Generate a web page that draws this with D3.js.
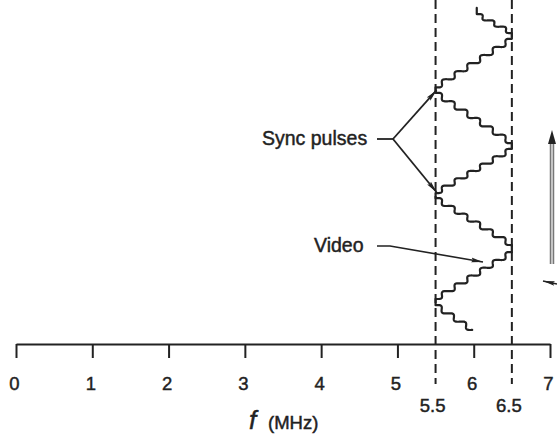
<!DOCTYPE html>
<html>
<head>
<meta charset="utf-8">
<script src="https://cdn.jsdelivr.net/npm/d3@7/dist/d3.min.js"></script>
<style>
  html, body { margin: 0; padding: 0; background: #fff; }
  svg { display: block; }
  text { font-family: "Liberation Sans", Arial, Helvetica, sans-serif; fill: #222; stroke: #222; stroke-width: 0.45px; }
</style>
</head>
<body>
<script>
// ---- data ----
const xTicks = [0, 1, 2, 3, 4, 5, 6, 7];
const bandEdges = [5.5, 6.5];
const bandLabels = ["5.5", "6.5"];
// FM sweep vertices: frequency (MHz) and time (arbitrary units, increasing upward)
const sweepFreq = [6.04, 6.04, 6.5, 6.5, 5.5, 5.5, 6.5, 6.5, 5.5, 5.5, 6.5, 6.5, 5.5, 5.5, 5.98];
const sweepTime = [97.7, 95.9, 90.4, 88.7, 74.6, 73.0, 58.4, 56.7, 43.9, 42.4, 28.8, 26.7, 13.1, 11.3, 4.1];
const stepsPerMHz = 6;
const annotations = ["Sync pulses", "Video"];
const axisTitle = "f";
const axisUnit = "(MHz)";

// ---- layout ----
const W = 557, H = 435;
const svg = d3.select("body").append("svg").attr("width", W).attr("height", H);
const x = d3.scaleLinear().domain([0, 7]).range([16, 550]);
const y = d3.scaleLinear().domain([0, 100]).range([344, 0]);
const axisY = 344;
const ink = "#222";

// arrow markers
const defs = svg.append("defs");
defs.append("marker").attr("id", "dart").attr("viewBox", "0 0 12 6")
  .attr("refX", 12).attr("refY", 3).attr("markerWidth", 12).attr("markerHeight", 6)
  .attr("markerUnits", "userSpaceOnUse").attr("orient", "auto")
  .append("path").attr("d", "M0,0.6 L12,3 L0,5.4 L2,3 Z").attr("fill", ink);

// dashed band edges
svg.selectAll("line.edge").data(bandEdges).join("line")
  .attr("class", "edge")
  .attr("x1", d => x(d)).attr("x2", d => x(d))
  .attr("y1", 0).attr("y2", 384)
  .attr("stroke", ink).attr("stroke-width", 2).attr("stroke-dasharray", "9,5");

// axis
const axis = d3.axisBottom(x).tickValues(xTicks).tickSize(14).tickSizeOuter(0).tickFormat(d3.format("d"));
const gAxis = svg.append("g").attr("transform", `translate(0,${axisY})`).call(axis);
gAxis.select(".domain").attr("stroke", ink).attr("stroke-width", 2);
gAxis.selectAll(".tick line").attr("stroke", ink).attr("stroke-width", 2);
gAxis.selectAll(".tick text").attr("font-size", 18.5).attr("dy", 0).attr("y", 46)
  .attr("dx", -2).attr("fill", ink).attr("font-family", "Liberation Sans, Arial, sans-serif");

svg.selectAll("text.band").data(bandEdges).join("text")
  .attr("class", "band")
  .attr("x", d => x(d) - 3).attr("y", 412)
  .attr("text-anchor", "middle").attr("font-size", 18.5)
  .text((d, i) => bandLabels[i]);

// axis title
svg.append("text").attr("x", 249).attr("y", 429)
  .attr("font-size", 26).attr("font-style", "italic")
  .attr("font-family", "Liberation Serif, Times New Roman, serif")
  .text(axisTitle);
svg.append("text").attr("x", 268).attr("y", 429).attr("font-size", 18.5).text(axisUnit);

// FM sweep staircase
const pts = [];
for (let i = 0; i < sweepFreq.length - 1; i++) {
  const fa = sweepFreq[i], fb = sweepFreq[i + 1], ta = sweepTime[i], tb = sweepTime[i + 1];
  const df = fb - fa, dt = tb - ta;
  if (i === 0) pts.push({ f: fa, t: ta });
  if (Math.abs(df) < 1e-9) { pts.push({ f: fb, t: tb }); continue; }
  const n = Math.max(1, Math.round(Math.abs(df) * stepsPerMHz));
  const A = 1.18;
  const N = n * 24;
  for (let k = 1; k <= N; k++) {
    const p = k / N;
    const s = A * Math.sin(2 * Math.PI * n * p + Math.PI) / (2 * Math.PI * n);
    pts.push({ f: fa + df * (p - s), t: ta + dt * (p + s) });
  }
}
const line = d3.line().x(d => x(d.f)).y(d => y(d.t)).curve(d3.curveLinear);
svg.append("path").datum(pts).attr("d", line)
  .attr("fill", "none").attr("stroke", ink).attr("stroke-width", 2.2)
  .attr("stroke-linejoin", "round").attr("stroke-linecap", "round");

// Sync pulses annotation
svg.append("text").attr("x", 262).attr("y", 145).attr("font-size", 19.5).text(annotations[0]);
const hub = [393, 139];
svg.append("line").attr("x1", 377).attr("y1", hub[1]).attr("x2", hub[0]).attr("y2", hub[1])
  .attr("stroke", ink).attr("stroke-width", 1.8);
[sweepTime[4] - 0.8, sweepTime[8] + 0.2].forEach(t => {
  svg.append("line").attr("x1", hub[0]).attr("y1", hub[1])
    .attr("x2", x(5.5) + 1).attr("y2", y(t))
    .attr("stroke", ink).attr("stroke-width", 1.8).attr("marker-end", "url(#dart)");
});

// Video annotation
svg.append("text").attr("x", 314).attr("y", 252).attr("font-size", 19.5).text(annotations[1]);
svg.append("path").attr("d", "M377,246 L390,246 L483,262")
  .attr("fill", "none").attr("stroke", ink).attr("stroke-width", 1.6)
  .attr("marker-end", "url(#dart)");

// right-edge grey arrow (cut off)
svg.append("line").attr("x1", 552).attr("y1", 264).attr("x2", 552).attr("y2", 140)
  .attr("stroke", "#777").attr("stroke-width", 4.5);
svg.append("line").attr("x1", 552).attr("y1", 264).attr("x2", 552).attr("y2", 140)
  .attr("stroke", "#c4c4c4").attr("stroke-width", 2);
svg.append("path").attr("d", "M552,130 L556,144 L548,144 Z").attr("fill", ink);
svg.append("line").attr("x1", 557).attr("y1", 284).attr("x2", 543).attr("y2", 281)
  .attr("stroke", ink).attr("stroke-width", 1.5).attr("marker-end", "url(#dart)");
</script>
</body>
</html>
